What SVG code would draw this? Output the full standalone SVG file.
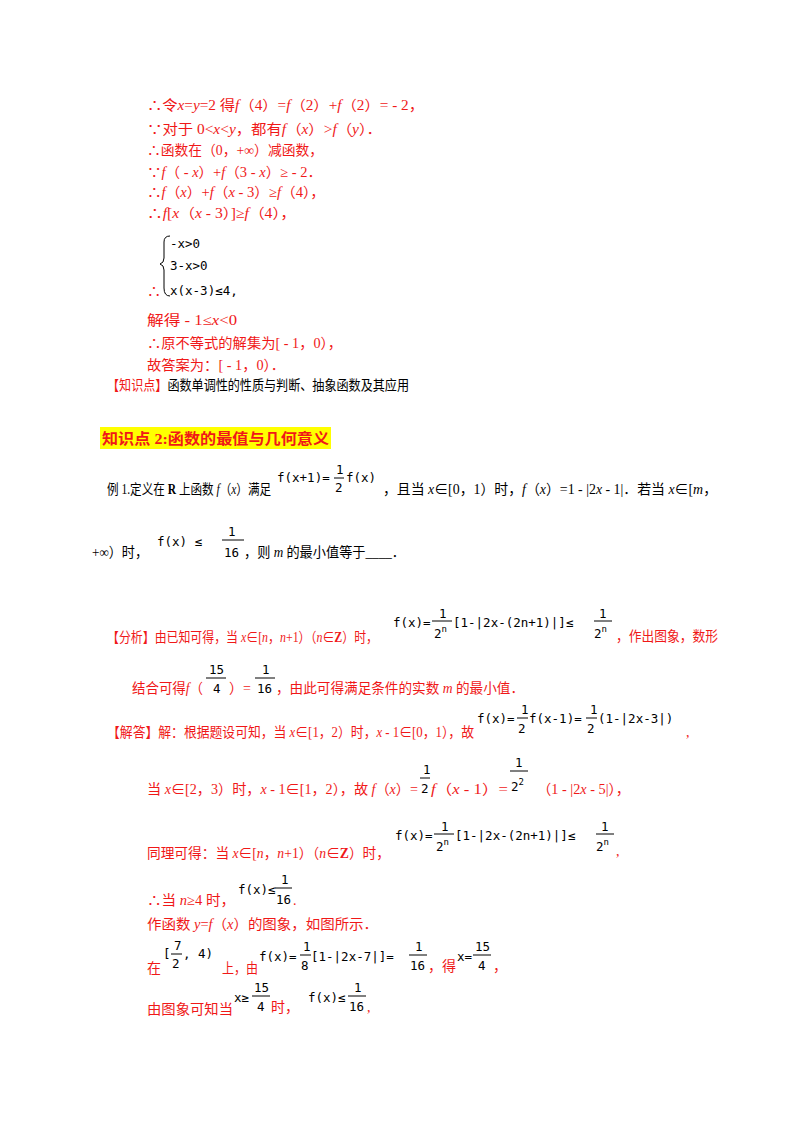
<svg xmlns="http://www.w3.org/2000/svg" width="800" height="1132" viewBox="0 0 800 1132">
<style>
text{font-family:"Liberation Serif","Noto Sans CJK SC",serif;font-size:14px}
.r{fill:#f01818}
.k{fill:#000}
.m{font-family:"DejaVu Sans Mono","Liberation Mono",monospace;font-size:12.5px;fill:#000}
.i{font-style:italic}
.b{font-weight:bold}
line{stroke:#000;stroke-width:1}
</style>
<rect width="800" height="1132" fill="#fff"/>
<g id="proof">
<text class="r" x="147" y="110" textLength="277" lengthAdjust="spacingAndGlyphs">∴令<tspan class="i">x</tspan>=<tspan class="i">y</tspan>=2 得<tspan class="i">f</tspan>（4）=<tspan class="i">f</tspan>（2）+<tspan class="i">f</tspan>（2）= - 2，</text>
<text class="r" x="147" y="134" textLength="235" lengthAdjust="spacingAndGlyphs">∵对于 0&lt;<tspan class="i">x</tspan>&lt;<tspan class="i">y</tspan>，都有<tspan class="i">f</tspan>（<tspan class="i">x</tspan>）&gt;<tspan class="i">f</tspan>（<tspan class="i">y</tspan>）．</text>
<text class="r" x="147" y="155" textLength="176" lengthAdjust="spacingAndGlyphs">∴函数在（0，+∞）减函数，</text>
<text class="r" x="147" y="177" textLength="175" lengthAdjust="spacingAndGlyphs">∵<tspan class="i">f</tspan>（ - <tspan class="i">x</tspan>）+<tspan class="i">f</tspan>（3 - <tspan class="i">x</tspan>）≥ - 2．</text>
<text class="r" x="147" y="197" textLength="178" lengthAdjust="spacingAndGlyphs">∴<tspan class="i">f</tspan>（<tspan class="i">x</tspan>）+<tspan class="i">f</tspan>（<tspan class="i">x</tspan> - 3）≥<tspan class="i">f</tspan>（4），</text>
<text class="r" x="147" y="218" textLength="149" lengthAdjust="spacingAndGlyphs">∴<tspan class="i">f</tspan>[<tspan class="i">x</tspan>（<tspan class="i">x</tspan> - 3）]≥<tspan class="i">f</tspan>（4），</text>
<path d="M170,236 Q164,236 164,242 L164,258 Q164,263 160,264 Q164,265 164,270 L164,288 Q164,296 170,296" fill="none" stroke="#000"/>
<text class="m" x="170" y="248">-x&gt;0</text>
<text class="m" x="170" y="270">3-x&gt;0</text>
<text class="m" x="170" y="295">x(x-3)≤4,</text>
<text class="r" x="147" y="296">∴</text>
<text class="r" x="147" y="325" textLength="90" lengthAdjust="spacingAndGlyphs">解得 - 1≤<tspan class="i">x</tspan>&lt;0</text>
<text class="r" x="147" y="348" textLength="195" lengthAdjust="spacingAndGlyphs">∴原不等式的解集为[ - 1，0），</text>
<text class="r" x="147" y="370" textLength="138" lengthAdjust="spacingAndGlyphs">故答案为：[ - 1，0）．</text>
<text x="107" y="390" textLength="302" lengthAdjust="spacingAndGlyphs"><tspan class="r">【知识点】</tspan><tspan class="k">函数单调性的性质与判断、抽象函数及其应用</tspan></text>
</g>
<g id="heading">
<rect x="100" y="427" width="231" height="22" fill="#ffff00"/>
<text class="r b" x="102" y="444" style="font-size:15px" textLength="227" lengthAdjust="spacingAndGlyphs">知识点 2:函数的最值与几何意义</text>
</g>
<g id="example">
<text class="k" x="107" y="494" textLength="164" lengthAdjust="spacingAndGlyphs">例 1.定义在 <tspan class="b">R</tspan> 上函数 <tspan class="i">f</tspan>（<tspan class="i">x</tspan>）满足</text>
<text class="m" x="277" y="482">f(x+1)=</text>
<text class="m" x="336" y="474">1</text><line x1="334" y1="478" x2="344" y2="478"/><text class="m" x="335" y="492">2</text>
<text class="m" x="346" y="482">f(x)</text>
<text class="k" x="383" y="494" textLength="334" lengthAdjust="spacingAndGlyphs">，且当 <tspan class="i">x</tspan>∈[0，1）时，<tspan class="i">f</tspan>（<tspan class="i">x</tspan>）=1 - |2<tspan class="i">x</tspan> - 1|．若当 <tspan class="i">x</tspan>∈[<tspan class="i">m</tspan>，</text>
<text class="k" x="92" y="557" textLength="56" lengthAdjust="spacingAndGlyphs">+∞）时，</text>
<text class="m" x="157" y="546">f(x) ≤</text>
<text class="m" x="228" y="536">1</text><line x1="222" y1="540" x2="244" y2="540"/><text class="m" x="224" y="557">16</text>
<text class="k" x="244" y="557" textLength="161" lengthAdjust="spacingAndGlyphs">，则 <tspan class="i">m</tspan> 的最小值等于____．</text>
</g>
<g id="analysis">
<text class="r" x="107" y="642" textLength="271" lengthAdjust="spacingAndGlyphs">【分析】由已知可得，当 <tspan class="i">x</tspan>∈[<tspan class="i">n</tspan>，<tspan class="i">n</tspan>+1）（<tspan class="i">n</tspan>∈<tspan class="b">Z</tspan>）时，</text>
<text class="m" x="393" y="627">f(x)=</text>
<text class="m" x="439" y="618">1</text><line x1="432" y1="621" x2="452" y2="621"/><text class="m" x="434" y="638">2<tspan font-size="9" dy="-6">n</tspan></text>
<text class="m" x="453" y="627">[1-|2x-(2n+1)|]≤</text>
<text class="m" x="599" y="618">1</text><line x1="594" y1="621" x2="612" y2="621"/><text class="m" x="594" y="638">2<tspan font-size="9" dy="-6">n</tspan></text>
<text class="r" x="616" y="641" textLength="102" lengthAdjust="spacingAndGlyphs">，作出图象，数形</text>
<text class="r" x="132" y="693" textLength="71" lengthAdjust="spacingAndGlyphs">结合可得<tspan class="i">f</tspan>（</text>
<text class="m" x="209" y="674">15</text><line x1="206" y1="678" x2="226" y2="678"/><text class="m" x="213" y="693">4</text>
<text class="r" x="229" y="693">）=</text>
<text class="m" x="262" y="674">1</text><line x1="255" y1="678" x2="275" y2="678"/><text class="m" x="257" y="693">16</text>
<text class="r" x="276" y="693" textLength="248" lengthAdjust="spacingAndGlyphs">，由此可得满足条件的实数 <tspan class="i">m</tspan> 的最小值．</text>
</g>
<g id="solution">
<text class="r" x="107" y="737" textLength="367" lengthAdjust="spacingAndGlyphs">【解答】解：根据题设可知，当 <tspan class="i">x</tspan>∈[1，2）时，<tspan class="i">x</tspan> - 1∈[0，1），故</text>
<text class="m" x="477" y="723">f(x)=</text>
<text class="m" x="521" y="714">1</text><line x1="517" y1="718" x2="528" y2="718"/><text class="m" x="518" y="733">2</text>
<text class="m" x="529" y="723">f(x-1)=</text>
<text class="m" x="590" y="714">1</text><line x1="586" y1="718" x2="597" y2="718"/><text class="m" x="587" y="733">2</text>
<text class="m" x="598" y="723">(1-|2x-3|)</text>
<text class="r" x="686" y="737">,</text>
<text class="r" x="147" y="794" textLength="271" lengthAdjust="spacingAndGlyphs">当 <tspan class="i">x</tspan>∈[2，3）时，<tspan class="i">x</tspan> - 1∈[1，2），故 <tspan class="i">f</tspan>（<tspan class="i">x</tspan>）=</text>
<text class="m" x="423" y="774">1</text><line x1="420" y1="778" x2="430" y2="778"/><text class="m" x="421" y="793">2</text>
<text class="r" x="431" y="794" textLength="77" lengthAdjust="spacingAndGlyphs"><tspan class="i">f</tspan>（<tspan class="i">x</tspan> - 1）=</text>
<text class="m" x="515" y="767">1</text><line x1="510" y1="771" x2="528" y2="771"/><text class="m" x="511" y="791">2<tspan font-size="9" dy="-6">2</tspan></text>
<text class="r" x="537" y="794" textLength="93" lengthAdjust="spacingAndGlyphs">（1 - |2<tspan class="i">x</tspan> - 5|），</text>
<text class="r" x="147" y="858" textLength="243" lengthAdjust="spacingAndGlyphs">同理可得：当 <tspan class="i">x</tspan>∈[<tspan class="i">n</tspan>，<tspan class="i">n</tspan>+1）（<tspan class="i">n</tspan>∈<tspan class="b">Z</tspan>）时，</text>
<text class="m" x="395" y="840">f(x)=</text>
<text class="m" x="441" y="831">1</text><line x1="434" y1="834" x2="454" y2="834"/><text class="m" x="436" y="851">2<tspan font-size="9" dy="-6">n</tspan></text>
<text class="m" x="455" y="840">[1-|2x-(2n+1)|]≤</text>
<text class="m" x="601" y="831">1</text><line x1="596" y1="834" x2="614" y2="834"/><text class="m" x="596" y="851">2<tspan font-size="9" dy="-6">n</tspan></text>
<text class="r" x="616" y="856">,</text>
<text class="r" x="147" y="905" textLength="88" lengthAdjust="spacingAndGlyphs">∴当 <tspan class="i">n</tspan>≥4 时，</text>
<text class="m" x="238" y="894">f(x)≤</text>
<text class="m" x="281" y="884">1</text><line x1="275" y1="888" x2="292" y2="888"/><text class="m" x="276" y="904">16</text>
<text class="r" x="293" y="905">.</text>
<text class="r" x="147" y="929" textLength="231" lengthAdjust="spacingAndGlyphs">作函数 <tspan class="i">y</tspan>=<tspan class="i">f</tspan>（<tspan class="i">x</tspan>）的图象，如图所示．</text>
<text class="r" x="147" y="973">在</text>
<text class="m" x="163" y="958">[</text>
<text class="m" x="174" y="950">7</text><line x1="171" y1="954" x2="182" y2="954"/><text class="m" x="172" y="968">2</text>
<text class="m" x="183" y="958">, 4)</text>
<text class="r" x="222" y="973" textLength="36" lengthAdjust="spacingAndGlyphs">上，由</text>
<text class="m" x="259" y="961">f(x)=</text>
<text class="m" x="303" y="951">1</text><line x1="300" y1="955" x2="311" y2="955"/><text class="m" x="301" y="970">8</text>
<text class="m" x="311" y="961">[1-|2x-7|]=</text>
<text class="m" x="415" y="951">1</text><line x1="409" y1="955" x2="427" y2="955"/><text class="m" x="410" y="970">16</text>
<text class="r" x="428" y="971">，得</text>
<text class="m" x="457" y="961">x=</text>
<text class="m" x="475" y="951">15</text><line x1="473" y1="955" x2="491" y2="955"/><text class="m" x="478" y="970">4</text>
<text class="r" x="493" y="971">，</text>
<text class="r" x="147" y="1014" textLength="86" lengthAdjust="spacingAndGlyphs">由图象可知当</text>
<text class="m" x="234" y="1002">x≥</text>
<text class="m" x="254" y="992">15</text><line x1="252" y1="996" x2="270" y2="996"/><text class="m" x="257" y="1011">4</text>
<text class="r" x="271" y="1012">时，</text>
<text class="m" x="308" y="1002">f(x)≤</text>
<text class="m" x="354" y="992">1</text><line x1="348" y1="996" x2="366" y2="996"/><text class="m" x="349" y="1011">16</text>
<text class="r" x="367" y="1012">,</text>
</g>
</svg>
